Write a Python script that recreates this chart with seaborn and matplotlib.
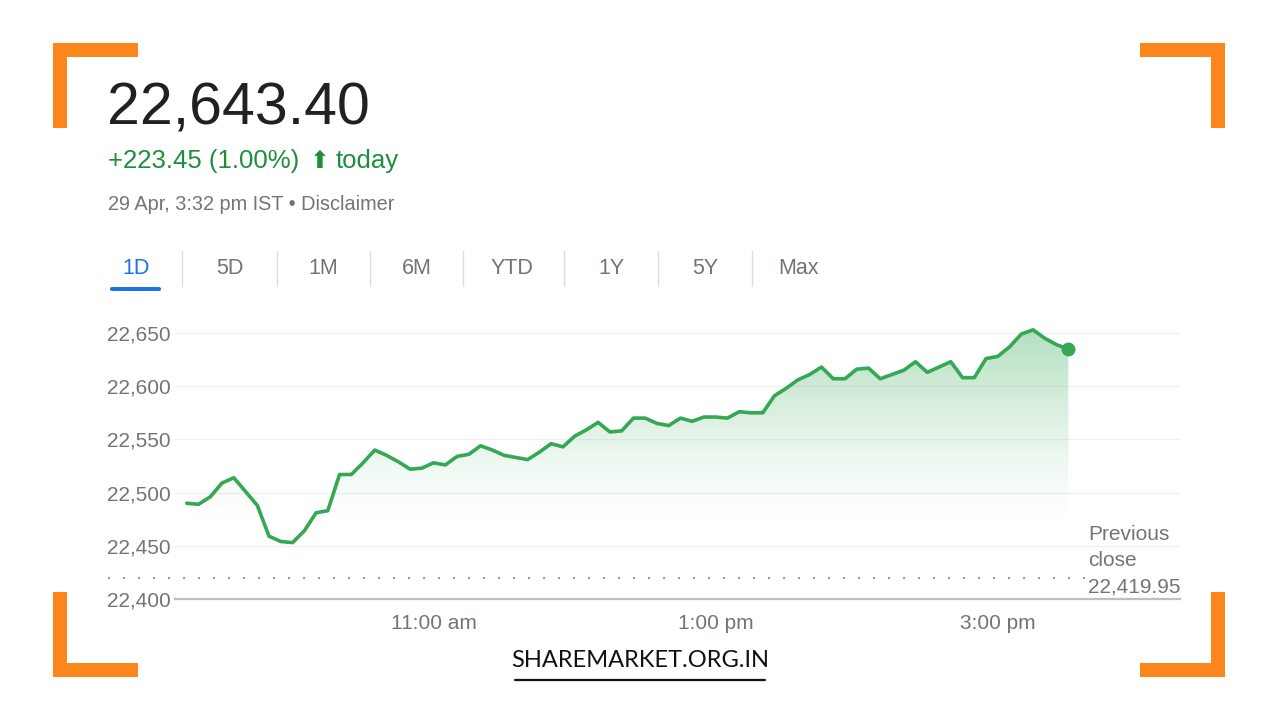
import numpy as np
import pandas as pd
import matplotlib
matplotlib.use("Agg")
import matplotlib.pyplot as plt
import matplotlib.dates as mdates
from matplotlib.patches import Rectangle, FancyBboxPatch
from matplotlib.lines import Line2D
import seaborn as sns

# ---------------- data ----------------
prices = [22490, 22489, 22496, 22509, 22514, 22501, 22488, 22459, 22454, 22453,
          22464, 22481, 22483, 22517, 22517, 22528, 22540, 22535, 22529, 22522,
          22523, 22528, 22526, 22534, 22536, 22544, 22540, 22535, 22533, 22531,
          22538, 22546, 22543, 22553, 22559, 22566, 22557, 22558, 22570, 22570,
          22565, 22563, 22570, 22567, 22571, 22571, 22570, 22576, 22575, 22575,
          22591, 22598, 22606, 22611, 22618, 22607, 22607, 22616, 22617, 22607,
          22611, 22615, 22623, 22613, 22618, 22623, 22608, 22608, 22626, 22628,
          22637, 22649, 22653, 22645, 22639, 22635]
times = pd.date_range("2024-04-29 09:15", "2024-04-29 15:30", freq="5min")
prev_close = 22419.95
y_ticks = [22400, 22450, 22500, 22550, 22600, 22650]
x_tick_times = ["2024-04-29 11:00", "2024-04-29 13:00", "2024-04-29 15:00"]
x_tick_labels = ["11:00 am", "1:00 pm", "3:00 pm"]
tabs = ["1D", "5D", "1M", "6M", "YTD", "1Y", "5Y", "Max"]
headline = "22,643.40"
change_part = "+223.45 (1.00%)"
arrow_part = "\u2b06"
today_part = "today"
date_text = "29 Apr, 3:32 pm IST \u2022 Disclaimer"
brand = "SHAREMARKET.ORG.IN"

df = pd.DataFrame({"time": times, "price": prices})

# ---------------- style ----------------
sns.set_style("white")
plt.rcParams["font.family"] = ["Liberation Sans", "DejaVu Sans"]

W, H = 1280, 720
fig = plt.figure(figsize=(12.8, 7.2), dpi=100)
fig.patch.set_facecolor("white")

def fx(x):
    return x / W

def fy(y):
    return 1 - y / H

GREEN = "#34a853"
GRAY = "#70757a"
ORANGE = "#fd861c"
TXTGREEN = "#1e8e3e"

ax_left, ax_right, ax_bottom = 175, 1180, 599
ylo, yhi = 22400, 22670
px_per_unit = 1.064
ax_top = ax_bottom - (yhi - ylo) * px_per_unit
ax = fig.add_axes([fx(ax_left), fy(ax_bottom), (ax_right - ax_left) / W, (ax_bottom - ax_top) / H])
ax.set_facecolor("none")

sns.lineplot(data=df, x="time", y="price", ax=ax, color=GREEN, linewidth=2.6, zorder=4)
ax.plot(df["time"].iloc[-1], df["price"].iloc[-1], "o", color=GREEN, markersize=9, zorder=5)

x0 = pd.Timestamp("2024-04-29 09:10")
x1 = pd.Timestamp("2024-04-29 16:17:30")

# gradient fill under the line
poly = ax.fill_between(df["time"], df["price"], ylo, color="none", linewidth=0)
grad = np.linspace(0, 1, 256).reshape(-1, 1)
alpha = np.clip((grad - 0.27) / 0.73, 0, 1) ** 1.3 * 0.4
rgba = np.zeros((256, 1, 4))
rgba[..., 0], rgba[..., 1], rgba[..., 2] = 0.204, 0.659, 0.325
rgba[..., 3] = alpha
img = ax.imshow(rgba, aspect="auto", origin="lower",
                extent=[mdates.date2num(df["time"].iloc[0]), mdates.date2num(df["time"].iloc[-1]), ylo, 22665],
                zorder=2)
paths = poly.get_paths()
if paths:
    img.set_clip_path(paths[0], transform=ax.transData)
ax.set_xlim(x0, x1)
ax.set_ylim(ylo, yhi)

# axes styling
for s in ["top", "right", "left"]:
    ax.spines[s].set_visible(False)
ax.spines["bottom"].set_color("#bfbfbf")
ax.spines["bottom"].set_linewidth(1.6)
ax.set_yticks(y_ticks)
ax.set_yticklabels([f"{v:,}" for v in y_ticks])
ax.yaxis.grid(True, color="#f0f0f0", linewidth=1)
ax.xaxis.grid(False)
ax.tick_params(axis="y", length=0, pad=3, labelsize=15, labelcolor=GRAY)
ax.set_xticks([pd.Timestamp(t) for t in x_tick_times])
ax.set_xticklabels(x_tick_labels)
ax.tick_params(axis="x", length=6, width=1.2, color="#bfbfbf", pad=5, labelsize=15, labelcolor=GRAY)
ax.set_xlabel("")
ax.set_ylabel("")

# previous close dotted line
xmin_f = (108 - ax_left) / (ax_right - ax_left)
xmax_f = (1085 - ax_left) / (ax_right - ax_left)
ax.axhline(prev_close, xmin=xmin_f, xmax=xmax_f, color="#9a9a9a", linewidth=1.5,
           linestyle=(0, (1, 6.2)), clip_on=False, zorder=3)
for txt, yy in zip(["Previous", "close", f"{prev_close:,.2f}"], [534, 560, 587]):
    fig.text(fx(1088), fy(yy), txt, fontsize=15, color=GRAY, va="center", ha="left")

# ---------------- header ----------------
fig.text(fx(107), fy(125), headline, fontsize=42.5, color="#202124", va="baseline", ha="left")
fig.text(fx(108), fy(168), change_part, fontsize=18.5, color=TXTGREEN, va="baseline", ha="left")
fig.text(fx(310), fy(168), arrow_part, fontsize=17, color=TXTGREEN, va="baseline", ha="left",
         family=["DejaVu Sans"])
fig.text(fx(336), fy(168), today_part, fontsize=18.5, color=TXTGREEN, va="baseline", ha="left")
fig.text(fx(108), fy(210), date_text, fontsize=14.3, color=GRAY, va="baseline", ha="left")

# tabs
tab_x = [136, 230, 323, 417, 512, 611, 705, 799]
sep_x = [182, 277, 370, 463, 564, 658, 752]
for t, xx in zip(tabs, tab_x):
    fig.text(fx(xx), fy(268), t, fontsize=15.5, color="#1a73e8" if t == "1D" else GRAY,
             ha="center", va="center")
for xx in sep_x:
    fig.add_artist(Line2D([fx(xx), fx(xx)], [fy(251), fy(286)], color="#dadce0", linewidth=1,
                          transform=fig.transFigure))
fig.add_artist(FancyBboxPatch((fx(110), fy(291)), fx(161) - fx(110), 4 / H,
                              boxstyle="round,pad=0,rounding_size=0.002",
                              facecolor="#1a73e8", edgecolor="none", transform=fig.transFigure))

# orange corner brackets
def rect(x, y, w, h):
    fig.add_artist(Rectangle((fx(x), fy(y + h)), w / W, h / H, facecolor=ORANGE,
                             edgecolor="none", transform=fig.transFigure))

T = 14
L = 85
rect(53, 43, L, T); rect(53, 43, T, L)
rect(1140, 43, L, T); rect(1225 - T, 43, T, L)
rect(53, 677 - L, T, L); rect(53, 677 - T, L, T)
rect(1225 - T, 677 - L, T, L); rect(1140, 677 - T, L, T)

# brand
fig.text(fx(640), fy(667), brand, fontsize=17, color="#111111", ha="center", va="baseline",
         family=["Lato", "DejaVu Sans"])
fig.add_artist(Line2D([fx(515), fx(765)], [fy(680), fy(680)], color="#111111", linewidth=1.6,
                      transform=fig.transFigure))

fig.savefig("out.png", dpi=100)
